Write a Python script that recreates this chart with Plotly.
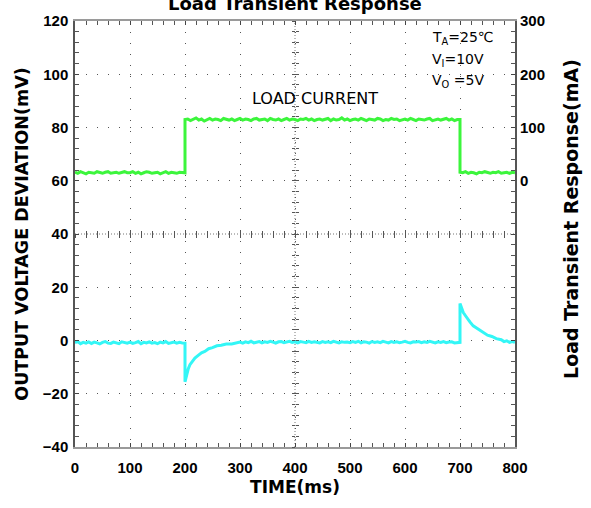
import plotly.graph_objects as go

# ---------------- data ----------------
# Load current (mA, right axis)
green_low1_t = list(range(0, 200, 5))
green_low1_ma = [16, 14, 17, 15, 13, 16, 15, 14, 17, 15, 14, 16, 17, 14, 15, 16, 14, 15, 17, 15,
                 15, 17, 14, 16, 13, 15, 17, 16, 14, 15, 16, 13, 15, 17, 14, 16, 15, 14, 16, 15]
green_step_up_t = [200, 200]
green_step_up_ma = [15, 115]
green_high_t = list(range(205, 700, 5))
green_high_ma = [116, 113, 115, 118, 114, 116, 112, 115, 117, 114,
                 116, 115, 113, 117, 115, 114, 116, 113, 115, 117,
                 114, 116, 115, 113, 116, 117, 114, 115, 116, 113,
                 117, 115, 114, 116, 113, 115, 117, 114, 116, 115,
                 113, 116, 115, 117, 114, 116, 113, 115, 116, 114,
                 115, 117, 113, 116, 114, 115, 118, 114, 116, 113,
                 115, 116, 114, 117, 115, 113, 116, 115, 114, 117,
                 116, 113, 115, 114, 117, 115, 116, 113, 115, 116,
                 114, 117, 115, 113, 116, 115, 114, 116, 117, 113,
                 115, 116, 114, 115, 117, 114, 116, 113, 115]
green_step_down_t = [700, 700]
green_step_down_ma = [115, 16]
green_low2_t = list(range(705, 801, 5))
green_low2_ma = [15, 17, 14, 16, 15, 13, 16, 15, 17, 15, 14, 16, 15, 17, 14, 15, 16, 14, 16, 15]

# Output voltage deviation (mV, left axis)
cyan_base1_t = list(range(0, 200, 5))
cyan_base1_mv = [-0.8, -0.4, -1.2, -0.7, -1.0, -0.5, -1.1, -0.6, -0.9, -1.3,
                 -0.7, -0.4, -1.0, -1.1, -0.6, -0.9, -1.2, -0.5, -0.8, -1.0,
                 -0.6, -1.1, -0.8, -0.4, -1.2, -0.7, -0.9, -0.5, -1.0, -0.8,
                 -1.2, -0.6, -0.9, -0.4, -1.1, -0.8, -0.6, -1.0, -0.7, -0.9]
cyan_dip_t = [200, 200, 203, 206, 209, 213, 218, 224, 230, 236, 243, 250, 258, 266, 275, 285, 295]
cyan_dip_mv = [-1.0, -15.5, -12.4, -10.6, -9.1, -8.1, -6.6, -5.6, -4.6, -4.1, -3.1, -2.7, -2.0, -1.8, -1.3, -1.3, -0.9]
cyan_base2_t = list(range(300, 700, 5))
cyan_base2_mv = [-0.6, -1.0, -0.5, -0.8, -0.3, -0.9, -0.6, -0.4, -0.9, -0.5,
                 -0.7, -0.3, -0.6, -1.0, -0.5, -0.4, -0.8, -0.6, -0.3, -0.7,
                 -0.5, -0.9, -0.4, -0.6, -0.8, -0.3, -0.7, -0.5, -0.6, -0.9,
                 -0.4, -0.7, -0.5, -0.8, -0.3, -0.6, -0.9, -0.5, -0.7, -0.6,
                 -0.8, -0.4, -0.7, -0.3, -0.9, -0.5, -0.6, -1.0, -0.4, -0.7,
                 -0.5, -0.8, -0.3, -0.6, -0.9, -0.4, -0.7, -0.5, -0.8, -0.6,
                 -0.3, -0.7, -0.9, -0.5, -0.6, -0.4, -0.8, -0.5, -0.7, -0.3,
                 -0.6, -0.9, -0.5, -0.7, -0.4, -0.8, -0.6, -0.5, -0.9, -0.7]
cyan_spike_t = [700, 700, 703, 706, 710, 714, 718, 724, 730, 736, 743, 750, 758, 766, 775, 780, 785, 790, 795, 800]
cyan_spike_mv = [-0.7, 13.9, 12.1, 10.5, 9.3, 7.9, 7.0, 5.5, 4.7, 3.6, 2.9, 2.0, 1.5, 0.7, 0.3, -0.4, -0.1, -0.7, -0.4, -0.7]

green_t = green_low1_t + green_step_up_t + green_high_t + green_step_down_t + green_low2_t
green_ma = green_low1_ma + green_step_up_ma + green_high_ma + green_step_down_ma + green_low2_ma
cyan_t = cyan_base1_t + cyan_dip_t + cyan_base2_t + cyan_spike_t
cyan_mv = cyan_base1_mv + cyan_dip_mv + cyan_base2_mv + cyan_spike_mv

x_ticks = [0, 100, 200, 300, 400, 500, 600, 700, 800]
y_ticks = [-40, -20, 0, 20, 40, 60, 80, 100, 120]
y2_ticks = [0, 100, 200, 300]

# ---------------- figure ----------------
FONT = "Liberation Sans, Arial, sans-serif"
WIDE = "DejaVu Sans, Liberation Sans, sans-serif"
GREEN = "#3cf53c"
CYAN = "#33f6f6"

fig = go.Figure()
fig.add_trace(go.Scatter(x=cyan_t, y=cyan_mv, mode="lines",
                         line=dict(color=CYAN, width=3), yaxis="y", showlegend=False))
fig.add_trace(go.Scatter(x=green_t, y=green_ma, mode="lines",
                         line=dict(color=GREEN, width=3), yaxis="y2", showlegend=False))

tickfont = dict(family=FONT, size=15, color="black", weight="bold")
titlefont = dict(family=WIDE, size=17.5, color="black", weight="bold")

fig.update_layout(
    width=591, height=508,
    margin=dict(l=75, r=76, t=17, b=61),
    paper_bgcolor="white", plot_bgcolor="white",
    xaxis=dict(range=[0, 800], tickvals=x_ticks, showgrid=True,
               gridcolor="#555", griddash="1px,10px", gridwidth=1,
               zeroline=False, showline=True, linecolor="#9a9a9a", linewidth=1.5,
               mirror="allticks", ticks="inside", ticklen=4, tickcolor="#444",
               minor=dict(dtick=20, ticks="inside", ticklen=3, tickcolor="#555", showgrid=False),
               tickfont=tickfont, ticklabelstandoff=6,
               title=dict(text="TIME(ms)", font=dict(family=WIDE, size=17, color="black", weight="bold"),
                          standoff=6)),
    yaxis=dict(range=[-40, 120], tickvals=y_ticks, showgrid=True,
               gridcolor="#555", griddash="1px,10px", gridwidth=1,
               zeroline=False, showline=True, linecolor="#555", linewidth=1.5,
               mirror="allticks", ticks="inside", ticklen=4, tickcolor="#444",
               minor=dict(dtick=4, ticks="inside", ticklen=3, tickcolor="#555", showgrid=False),
               tickfont=tickfont, ticklabelstandoff=2,
               title=dict(text="OUTPUT VOLTAGE DEVIATION(mV)", font=titlefont, standoff=10)),
    yaxis2=dict(range=[-500, 300], tickvals=y2_ticks, overlaying="y", side="right",
                showgrid=False, zeroline=False, showline=False, ticks="",
                tickfont=tickfont, ticklabelstandoff=4),
    # crosshair tick axes
    xaxis3=dict(range=[0, 800], overlaying="x", anchor="free", position=0.5, side="bottom",
                showgrid=False, zeroline=False, showline=False, showticklabels=False,
                tickvals=x_ticks, ticks="outside", ticklen=3, tickcolor="#555",
                minor=dict(dtick=20, ticks="outside", ticklen=3, tickcolor="#555")),
    xaxis4=dict(range=[0, 800], overlaying="x", anchor="free", position=0.5, side="bottom",
                showgrid=False, zeroline=False, showline=False, showticklabels=False,
                tickvals=x_ticks, ticks="inside", ticklen=3, tickcolor="#555",
                minor=dict(dtick=20, ticks="inside", ticklen=3, tickcolor="#555")),
    yaxis3=dict(range=[-40, 120], overlaying="y", anchor="free", position=0.5, side="left",
                showgrid=False, zeroline=False, showline=False, showticklabels=False,
                tickvals=y_ticks, ticks="outside", ticklen=3, tickcolor="#555",
                minor=dict(dtick=4, ticks="outside", ticklen=3, tickcolor="#555")),
    yaxis4=dict(range=[-40, 120], overlaying="y", anchor="free", position=0.5, side="left",
                showgrid=False, zeroline=False, showline=False, showticklabels=False,
                tickvals=y_ticks, ticks="inside", ticklen=3, tickcolor="#555",
                minor=dict(dtick=4, ticks="inside", ticklen=3, tickcolor="#555")),
    showlegend=False,
)

# invisible anchors so crosshair axes get drawn
fig.add_trace(go.Scatter(x=[None], y=[None], xaxis="x3", yaxis="y", showlegend=False, hoverinfo="skip"))
fig.add_trace(go.Scatter(x=[None], y=[None], xaxis="x4", yaxis="y", showlegend=False, hoverinfo="skip"))
fig.add_trace(go.Scatter(x=[None], y=[None], xaxis="x", yaxis="y3", showlegend=False, hoverinfo="skip"))
fig.add_trace(go.Scatter(x=[None], y=[None], xaxis="x", yaxis="y4", showlegend=False, hoverinfo="skip"))

# crosshair dotted lines
fig.add_shape(type="line", xref="x", yref="paper", x0=400, x1=400, y0=0, y1=1,
              line=dict(color="#777", width=1, dash="1px,2px"), layer="below")
fig.add_shape(type="line", xref="paper", yref="y", x0=0, x1=1, y0=40, y1=40,
              line=dict(color="#777", width=1, dash="1px,2px"), layer="below")

# right axis title (placed as rotated text to match the reference position)
fig.add_annotation(text="Load Transient Response(mA)", xref="paper", yref="paper",
                   x=1.127, y=0.535, xanchor="center", yanchor="middle", textangle=-90,
                   showarrow=False, font=dict(family=WIDE, size=19, color="black", weight="bold"))

ann_font = dict(family=WIDE, size=14, color="black")
fig.add_annotation(text="Load Transient Response", xref="paper", yref="paper", x=0.5, y=1.042,
                   xanchor="center", yanchor="middle", showarrow=False,
                   font=dict(family=WIDE, size=18, color="black", weight="bold"))
fig.add_annotation(text="LOAD CURRENT", xref="x", yref="y", x=436, y=91, showarrow=False,
                   font=dict(family=WIDE, size=16, color="black"))
fig.add_annotation(text="T<sub>A</sub>=25℃", xref="x", yref="y", x=645, y=113.5, xanchor="left",
                   showarrow=False, font=ann_font)
fig.add_annotation(text="V<sub>I</sub>=10V", xref="x", yref="y", x=645, y=105.2, xanchor="left",
                   showarrow=False, font=ann_font)
fig.add_annotation(text="V<sub>O</sub> =5V", xref="x", yref="y", x=645, y=97.5, xanchor="left",
                   showarrow=False, font=ann_font)

fig.write_html("out.html")
